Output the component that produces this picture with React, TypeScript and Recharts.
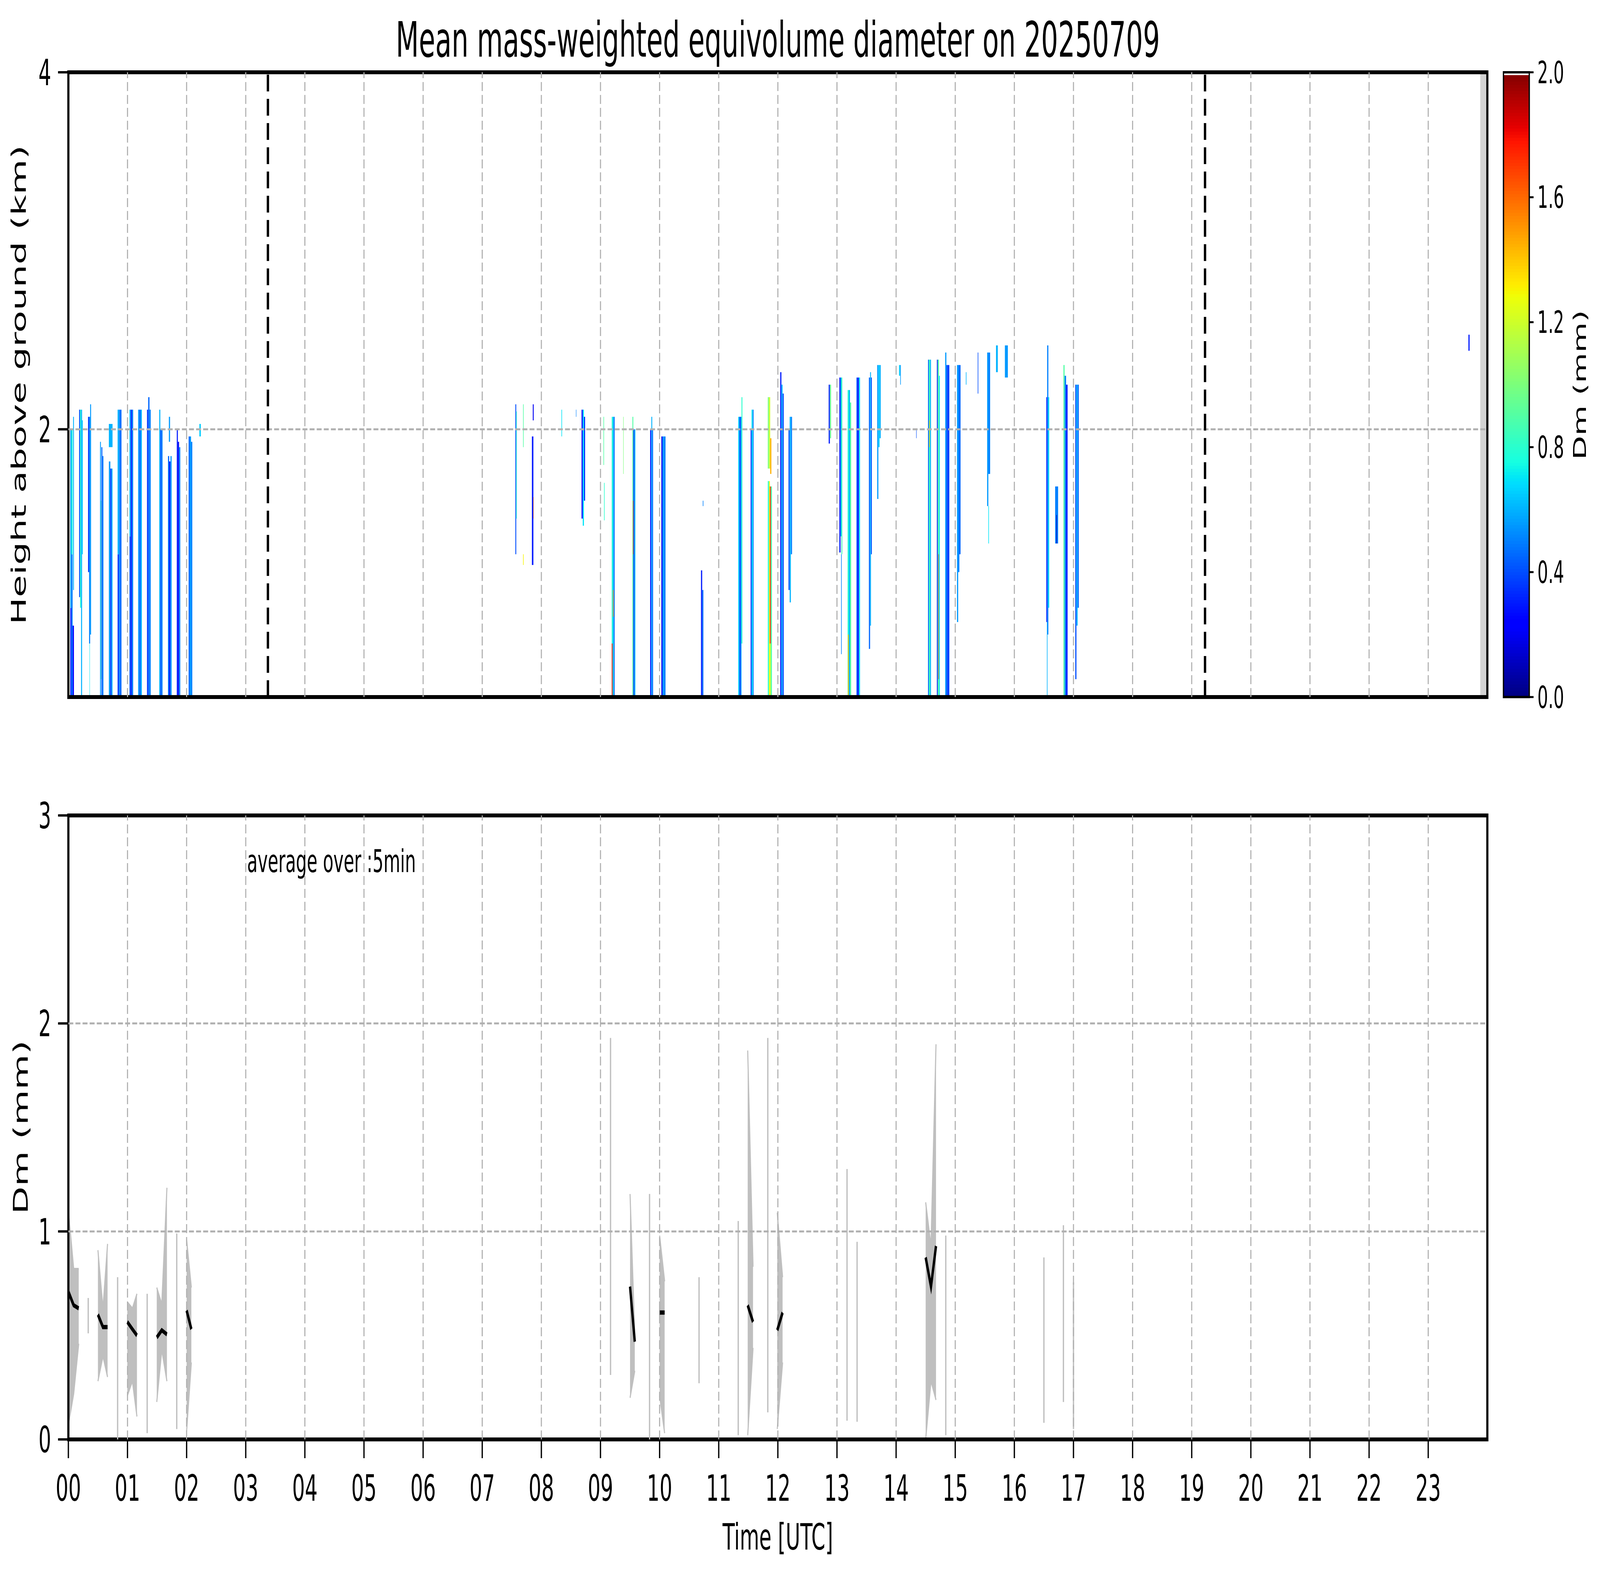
import { ComposedChart, XAxis, YAxis, ReferenceArea, ReferenceLine, Area, Line } from 'recharts'

const FONT = '"DejaVu Sans", sans-serif'
const PAGE_W = 7442
const PAGE_H = 4031

// axis ticks
const hourTicks = [0, 1, 2, 3, 4, 5, 6, 7, 8, 9, 10, 11, 12, 13, 14, 15, 16, 17, 18, 19, 20, 21, 22, 23]
const minorHourTicks = Array.from({ length: 145 }, (_, i) => i / 6)
const heightTicks = [2, 4]
const heightMinorTicks = [1, 3]
const dmTicks = [0, 1, 2, 3]
const dmMinorTicks = [0.2, 0.4, 0.6, 0.8, 1.2, 1.4, 1.6, 1.8, 2.2, 2.4, 2.6, 2.8]
const cbarTicks = [0, 0.4, 0.8, 1.2, 1.6, 2.0]

// sunrise / sunset markers and the no-data strip at the end of the day
const dayMarks = [3.375, 19.225]
const noDataFrom = 23.88

// radar cells: [start h, end h, base km, top km, Dm mm]
type Cell = [number, number, number, number, number]

const nightCells: Cell[] = [
  [0.032, 0.052, 0.5, 1.0, 0.3], [0.032, 0.052, 1.0, 2.0, 0.55],
  [0.052, 0.072, 0.5, 1.3, 0.5], [0.052, 0.072, 1.3, 2.0, 0.75],
  [0.072, 0.094, 0.5, 0.9, 0.25], [0.08, 0.094, 1.1, 2.07, 0.6],
  [0.182, 0.198, 1.06, 2.11, 0.4], [0.198, 0.215, 1.0, 2.11, 0.8], [0.215, 0.232, 0.5, 2.11, 0.6], [0.232, 0.244, 1.3, 2.05, 0.65],
  [0.333, 0.35, 1.2, 2.07, 0.35], [0.35, 0.368, 0.8, 2.07, 0.5], [0.358, 0.364, 0.5, 0.8, 0.7], [0.368, 0.384, 0.85, 2.14, 0.55],
  [0.536, 0.55, 0.5, 1.93, 0.55], [0.55, 0.558, 0.6, 1.6, 0.9], [0.558, 0.575, 0.5, 1.9, 0.45], [0.575, 0.593, 0.5, 1.85, 0.5],
  [0.685, 0.71, 0.5, 1.82, 0.55], [0.71, 0.73, 0.5, 1.78, 0.35], [0.73, 0.747, 0.5, 1.78, 0.6], [0.685, 0.747, 1.9, 2.03, 0.6],
  [0.833, 0.855, 0.5, 1.3, 0.35], [0.833, 0.855, 1.3, 2.11, 0.6], [0.855, 0.877, 0.5, 2.11, 0.5], [0.877, 0.898, 0.5, 2.11, 0.45],
  [1.034, 1.055, 0.5, 1.4, 0.4], [1.034, 1.055, 1.4, 2.11, 0.6], [1.055, 1.075, 0.5, 2.11, 0.3], [1.075, 1.096, 0.5, 2.11, 0.5],
  [1.18, 1.2, 0.5, 2.11, 0.55], [1.2, 1.222, 0.5, 2.11, 0.45], [1.222, 1.243, 0.5, 2.11, 0.6],
  [1.33, 1.35, 0.5, 2.11, 0.35], [1.35, 1.372, 0.5, 2.18, 0.45], [1.372, 1.393, 0.5, 2.11, 0.5],
  [1.537, 1.555, 0.5, 2.11, 0.6], [1.555, 1.575, 0.5, 2.0, 0.4], [1.575, 1.593, 0.5, 2.0, 0.5],
  [1.685, 1.705, 0.5, 1.85, 0.45], [1.705, 1.727, 0.5, 1.82, 0.3], [1.727, 1.747, 0.5, 1.85, 0.55], [1.7, 1.72, 1.93, 2.07, 0.55],
  [1.834, 1.852, 0.5, 2.0, 0.3], [1.852, 1.872, 0.5, 1.93, 0.2], [1.872, 1.893, 0.5, 1.9, 0.5],
  [2.034, 2.054, 0.5, 1.96, 0.45], [2.054, 2.075, 0.5, 1.96, 0.55], [2.075, 2.096, 0.5, 1.93, 0.5],
  [2.216, 2.24, 1.96, 2.03, 0.65],
]

const morningCells: Cell[] = [
  [7.56, 7.575, 1.3, 2.14, 0.4], [7.575, 7.585, 1.5, 2.1, 0.8],
  [7.69, 7.7, 1.9, 2.14, 0.9], [7.69, 7.7, 1.24, 1.3, 1.3],
  [7.84, 7.865, 1.24, 1.96, 0.3], [7.855, 7.87, 2.05, 2.14, 0.2], [7.862, 7.868, 1.5, 1.62, 1.6],
  [8.34, 8.35, 1.96, 2.11, 0.7],
  [8.585, 8.592, 2.07, 2.11, 0.5],
  [8.68, 8.7, 1.5, 2.11, 0.25], [8.7, 8.72, 1.46, 2.11, 0.7], [8.72, 8.74, 1.6, 2.07, 0.35],
  [9.05, 9.06, 1.8, 2.07, 0.9], [9.06, 9.07, 1.49, 1.7, 0.8],
  [9.19, 9.205, 0.8, 2.07, 0.8], [9.19, 9.205, 0.5, 0.8, 1.75], [9.205, 9.225, 0.5, 2.07, 0.65], [9.225, 9.24, 0.5, 2.07, 0.45], [9.21, 9.22, 0.95, 1.1, 1.5],
  [9.385, 9.392, 1.75, 2.07, 1.0],
  [9.54, 9.555, 0.5, 2.07, 0.9], [9.555, 9.575, 0.5, 2.0, 0.4], [9.575, 9.59, 0.5, 2.0, 0.6], [9.548, 9.556, 1.3, 1.6, 1.6],
  [9.84, 9.86, 0.5, 2.0, 0.3], [9.86, 9.875, 0.5, 2.07, 0.6], [9.875, 9.89, 0.5, 2.0, 0.45],
  [10.03, 10.05, 0.5, 1.96, 0.2], [10.05, 10.075, 0.5, 1.96, 0.55], [10.075, 10.1, 0.5, 1.96, 0.5],
  [10.7, 10.72, 0.5, 1.21, 0.3], [10.72, 10.74, 0.5, 1.1, 0.45], [10.73, 10.74, 1.57, 1.6, 0.5],
]

const middayCells: Cell[] = [
  [11.33, 11.35, 0.5, 2.07, 0.65], [11.35, 11.37, 0.5, 2.07, 0.4], [11.37, 11.385, 0.5, 2.07, 0.55], [11.385, 11.4, 0.8, 2.18, 0.8],
  [11.54, 11.555, 0.5, 2.0, 0.3], [11.555, 11.575, 0.5, 2.11, 0.7], [11.575, 11.59, 0.5, 2.11, 0.5],
  [11.83, 11.85, 1.78, 2.18, 1.0], [11.85, 11.87, 1.78, 2.18, 1.2], [11.87, 11.89, 1.75, 1.95, 1.45],
  [11.83, 11.85, 0.5, 1.71, 0.8], [11.85, 11.865, 0.5, 1.71, 1.3], [11.865, 11.88, 0.8, 1.68, 1.75], [11.865, 11.88, 0.5, 0.8, 1.2], [11.88, 11.9, 0.5, 1.68, 0.9],
  [12.04, 12.06, 0.5, 2.32, 0.3], [12.06, 12.08, 0.5, 2.25, 0.6], [12.08, 12.1, 0.5, 2.2, 0.4],
  [12.18, 12.2, 1.1, 2.0, 0.4], [12.2, 12.22, 1.03, 2.07, 0.6], [12.22, 12.24, 1.3, 2.07, 0.5],
  [12.86, 12.88, 1.92, 2.25, 0.3], [12.88, 12.9, 1.95, 2.25, 0.95],
  [13.04, 13.06, 1.31, 2.29, 0.3], [13.06, 13.075, 1.4, 2.29, 0.6], [13.075, 13.09, 1.3, 2.29, 0.85], [13.07, 13.08, 0.74, 1.3, 0.5],
  [13.18, 13.2, 0.5, 2.22, 0.8], [13.2, 13.22, 0.5, 2.22, 0.6], [13.22, 13.24, 0.5, 2.15, 0.9], [13.185, 13.2, 0.5, 0.85, 1.4],
  [13.33, 13.35, 0.5, 2.29, 0.4], [13.35, 13.37, 0.5, 2.29, 0.25], [13.37, 13.39, 0.5, 2.29, 0.7],
  [13.54, 13.56, 0.77, 2.29, 0.45], [13.56, 13.575, 0.9, 2.32, 0.6], [13.575, 13.59, 1.3, 2.29, 0.4],
  [13.68, 13.7, 1.61, 2.36, 0.55], [13.7, 13.72, 1.9, 2.36, 0.65], [13.72, 13.74, 1.95, 2.36, 0.6],
  [14.05, 14.07, 2.3, 2.36, 0.65], [14.07, 14.08, 2.25, 2.36, 0.55],
  [14.34, 14.347, 1.95, 2.0, 0.4],
]

const afternoonCells: Cell[] = [
  [14.54, 14.555, 0.5, 2.39, 0.45], [14.555, 14.575, 0.5, 2.39, 0.85], [14.575, 14.59, 0.5, 2.39, 0.6], [14.56, 14.57, 1.9, 2.05, 1.4],
  [14.69, 14.705, 0.5, 2.39, 0.3], [14.705, 14.725, 0.5, 2.39, 0.9], [14.715, 14.722, 0.6, 1.3, 1.8], [14.725, 14.74, 0.5, 2.3, 0.7],
  [14.83, 14.85, 0.5, 2.43, 0.55], [14.85, 14.875, 0.5, 2.36, 0.4], [14.875, 14.9, 0.5, 2.36, 0.35],
  [15.03, 15.05, 0.92, 2.36, 0.55], [15.05, 15.07, 1.2, 2.36, 0.5], [15.07, 15.09, 1.3, 2.36, 0.45],
  [15.18, 15.19, 2.25, 2.32, 0.6],
  [15.38, 15.39, 2.2, 2.43, 0.4],
  [15.54, 15.56, 1.57, 2.43, 0.55], [15.56, 15.59, 1.75, 2.43, 0.5], [15.56, 15.57, 1.36, 1.57, 0.7],
  [15.69, 15.72, 2.32, 2.47, 0.6],
  [15.84, 15.89, 2.29, 2.47, 0.55],
  [16.54, 16.555, 0.92, 2.18, 0.3], [16.555, 16.575, 0.85, 2.47, 0.5], [16.575, 16.59, 1.0, 2.18, 0.7], [16.55, 16.56, 0.5, 0.92, 0.6],
  [16.69, 16.74, 1.36, 1.68, 0.5], [16.71, 16.72, 1.36, 1.52, 0.1],
  [16.83, 16.85, 0.5, 2.36, 0.9], [16.85, 16.875, 0.5, 2.3, 0.5], [16.875, 16.9, 0.5, 2.25, 0.3],
  [17.03, 17.05, 0.6, 2.25, 0.4], [17.05, 17.07, 0.9, 2.25, 0.6], [17.07, 17.09, 1.0, 2.25, 0.45],
  [23.68, 23.7, 2.44, 2.53, 0.3],
]

const radarCells = [...nightCells, ...morningCells, ...middayCells, ...afternoonCells]

// 5 min averages of Dm: one list per rain episode
const avgTime = [
  [0, 0.09, 0.175],
  [0.5, 0.585, 0.663],
  [0.997, 1.083, 1.16],
  [1.495, 1.58, 1.667],
  [2.0, 2.08],
  [9.5, 9.58],
  [10.0, 10.085],
  [11.49, 11.58],
  [11.99, 12.08],
  [14.5, 14.59, 14.675],
]
const avgLow = [
  [0.07, 0.22, 0.46],
  [0.28, 0.4, 0.3],
  [0.21, 0.28, 0.11],
  [0.18, 0.43, 0.28],
  [0.04, 0.37],
  [0.2, 0.33],
  [0.21, 0.03],
  [0.02, 0.44],
  [0.05, 0.37],
  [0.0, 0.28, 0.19],
]
const avgHigh = [
  [1.1, 0.82, 0.82],
  [0.91, 0.63, 0.94],
  [0.66, 0.63, 0.7],
  [0.73, 0.65, 1.21],
  [0.96, 0.73],
  [1.18, 0.5],
  [0.98, 0.76],
  [1.87, 0.83],
  [1.09, 0.78],
  [1.14, 0.93, 1.9],
]
const avgMean = [
  [0.71, 0.645, 0.63],
  [0.6, 0.54, 0.54],
  [0.565, 0.53, 0.5],
  [0.49, 0.525, 0.505],
  [0.62, 0.53],
  [0.735, 0.47],
  [0.61, 0.61],
  [0.645, 0.565],
  [0.525, 0.61],
  [0.875, 0.735, 0.93],
]

// single-sample spreads (drawn as thin vertical bars)
const spikeTime = [0.336, 0.833, 1.333, 1.833, 9.17, 9.83, 10.667, 11.33, 11.83, 13.17, 13.34, 14.84, 16.5, 16.83, 17.0]
const spikeLow = [0.51, 0.0, 0.03, 0.05, 0.31, 0.0, 0.27, 0.02, 0.13, 0.09, 0.085, 0.02, 0.08, 0.18, 0.05]
const spikeHigh = [0.68, 0.78, 0.7, 0.99, 1.93, 1.18, 0.78, 1.05, 1.93, 1.3, 0.95, 0.98, 0.875, 1.03, 0.755]

const avgRows = avgTime.flatMap((ts, g) => {
  const rows: { t: number; band: number[] | null; mean: number | null }[] = ts.map((t, i) => ({
    t,
    band: [avgLow[g][i], avgHigh[g][i]],
    mean: avgMean[g][i],
  }))
  if (g < avgTime.length - 1) rows.push({ t: ts[ts.length - 1] + 0.04, band: null, mean: null })
  return rows
})

// matplotlib jet
const JET_R = [[0, 0], [0.35, 0], [0.66, 1], [0.89, 1], [1, 0.5]]
const JET_G = [[0, 0], [0.125, 0], [0.375, 1], [0.64, 1], [0.91, 0], [1, 0]]
const JET_B = [[0, 0.5], [0.11, 1], [0.34, 1], [0.65, 0], [1, 0]]

function seg(points: number[][], x: number) {
  for (let i = 1; i < points.length; i++) {
    const [x0, y0] = points[i - 1]
    const [x1, y1] = points[i]
    if (x <= x1) return y0 + ((y1 - y0) * (x - x0)) / (x1 - x0)
  }
  return points[points.length - 1][1]
}

function jet(dm: number) {
  const x = Math.min(1, Math.max(0, dm / 2))
  const c = (p: number[][]) => Math.round(255 * seg(p, x))
  return `rgb(${c(JET_R)},${c(JET_G)},${c(JET_B)})`
}

// colour bar steps (0 .. 2 mm)
const cbarSteps = Array.from({ length: 200 }, (_, i) => i * 0.01)

const GRID = '#b0b0b0'
const tickFont = { fontSize: 93, fill: '#000', fontFamily: FONT }
const tickLineStyle = { stroke: '#000', strokeWidth: 6 }
const pad2 = (v: number) => String(v).padStart(2, '0')

function TopPanel() {
  return (
    <ComposedChart width={PAGE_W} height={1900} data={[]} margin={{ top: 185, right: 524, bottom: 114, left: 316 }}>
      <XAxis xAxisId={0} type="number" dataKey="t" domain={[0, 24]} allowDataOverflow ticks={hourTicks} interval={0}
        tick={false} tickSize={48} tickLine={tickLineStyle} axisLine={false} height={1} />
      <XAxis xAxisId="minor" type="number" domain={[0, 24]} allowDataOverflow ticks={minorHourTicks} interval={0}
        tick={false} tickSize={26} tickLine={tickLineStyle} axisLine={false} height={1} />
      <YAxis yAxisId={0} type="number" domain={[0.5, 4]} allowDataOverflow ticks={heightTicks} interval={0}
        tick={tickFont} tickSize={48} tickMargin={32} tickLine={tickLineStyle} axisLine={false} width={1} />
      <YAxis yAxisId="minor" type="number" domain={[0.5, 4]} allowDataOverflow ticks={heightMinorTicks} interval={0}
        tick={false} tickSize={28} tickLine={tickLineStyle} axisLine={false} width={1} />

      {radarCells.map(([t0, t1, z0, z1, dm], i) => (
        <ReferenceArea key={'c' + i} x1={t0} x2={t1} y1={z0} y2={z1} fill={jet(dm)} fillOpacity={1} stroke="none" />
      ))}

      <ReferenceArea x1={noDataFrom} x2={24} y1={0.5} y2={4} fill="#d3d3d3" fillOpacity={1} stroke="none" />

      {hourTicks.slice(1).map((h) => (
        <ReferenceLine key={'gx' + h} x={h} stroke={GRID} strokeWidth={5} strokeDasharray="23 10" />
      ))}
      <ReferenceLine y={2} stroke={GRID} strokeWidth={5} strokeDasharray="23 10" />

      {dayMarks.map((h) => (
        <ReferenceLine key={'d' + h} x={h} stroke="#000" strokeWidth={11} strokeDasharray="43 19" />
      ))}

      <ReferenceArea x1={0} x2={24} y1={0.5} y2={4} fill="none" stroke="#000" strokeWidth={10} ifOverflow="visible" />
    </ComposedChart>
  )
}

function BottomPanel() {
  return (
    <ComposedChart width={PAGE_W} height={2081} data={avgRows} margin={{ top: 137, right: 524, bottom: 345, left: 316 }}>
      <XAxis xAxisId={0} type="number" dataKey="t" domain={[0, 24]} allowDataOverflow ticks={hourTicks} interval={0}
        tickFormatter={pad2} tick={tickFont} tickSize={48} tickMargin={43} tickLine={tickLineStyle} axisLine={false} height={1} />
      <XAxis xAxisId="minor" type="number" dataKey="t" domain={[0, 24]} allowDataOverflow ticks={minorHourTicks} interval={0}
        tick={false} tickSize={26} tickLine={tickLineStyle} axisLine={false} height={1} />
      <YAxis yAxisId={0} type="number" domain={[0, 3]} allowDataOverflow ticks={dmTicks} interval={0}
        tick={tickFont} tickSize={48} tickMargin={32} tickLine={tickLineStyle} axisLine={false} width={1} />
      <YAxis yAxisId="minor" type="number" domain={[0, 3]} allowDataOverflow ticks={dmMinorTicks} interval={0}
        tick={false} tickSize={28} tickLine={tickLineStyle} axisLine={false} width={1} />

      <Area type="linear" dataKey="band" stroke="#bfbfbf" strokeWidth={5} fill="#bfbfbf" fillOpacity={1}
        dot={false} activeDot={false} isAnimationActive={false} />

      {spikeTime.map((t, i) => (
        <ReferenceLine key={'s' + i} segment={[{ x: t, y: spikeLow[i] }, { x: t, y: spikeHigh[i] }]}
          stroke="#bfbfbf" strokeWidth={6} />
      ))}

      {hourTicks.slice(1).map((h) => (
        <ReferenceLine key={'gx' + h} x={h} stroke={GRID} strokeWidth={5} strokeDasharray="23 10" />
      ))}
      {[1, 2].map((v) => (
        <ReferenceLine key={'gy' + v} y={v} stroke={GRID} strokeWidth={5} strokeDasharray="23 10" />
      ))}

      <Line type="linear" dataKey="mean" stroke="#000" strokeWidth={11} dot={false} activeDot={false}
        isAnimationActive={false} />

      <ReferenceArea x1={0} x2={24} y1={0} y2={3} fill="none" stroke="#000" strokeWidth={10} ifOverflow="visible" />
    </ComposedChart>
  )
}

function ColorBar() {
  return (
    <ComposedChart width={542} height={1900} data={[]} margin={{ top: 185, right: 328, bottom: 115, left: 93 }}>
      <XAxis xAxisId={0} type="number" dataKey="x" domain={[0, 1]} allowDataOverflow ticks={[0]} tick={false}
        tickLine={false} axisLine={false} height={1} />
      <YAxis yAxisId={0} orientation="right" type="number" domain={[0, 2]} allowDataOverflow ticks={cbarTicks} interval={0}
        tickFormatter={(v: number) => v.toFixed(1)} tick={{ fontSize: 78, fill: '#000', fontFamily: FONT }}
        tickSize={20} tickMargin={18} tickLine={{ stroke: '#000', strokeWidth: 5 }} axisLine={false} width={1} />
      {cbarSteps.map((v) => (
        <ReferenceArea key={'cb' + v} x1={0} x2={1} y1={v} y2={v + 0.011} fill={jet(v + 0.005)} fillOpacity={1}
          stroke="none" />
      ))}
      <ReferenceArea x1={0} x2={1} y1={0} y2={2} fill="none" stroke="#000" strokeWidth={6} ifOverflow="visible" />
    </ComposedChart>
  )
}

const textBase: React.CSSProperties = {
  position: 'absolute',
  fontFamily: FONT,
  color: '#000',
  whiteSpace: 'nowrap',
  lineHeight: 1,
}

export default function App() {
  // the browser viewport can be narrower than the figure: squeeze horizontally so the whole figure shows
  const sx = typeof window !== 'undefined' ? Math.min(1, window.innerWidth / PAGE_W) : 1
  return (
    <div style={{ position: 'absolute', left: 0, top: 0, width: PAGE_W * sx, height: PAGE_H, overflow: 'hidden', background: '#fff' }}>
      <div style={{ position: 'absolute', left: 0, top: 0, width: PAGE_W, height: PAGE_H, background: '#fff',
        transform: `scaleX(${sx})`, transformOrigin: '0 0' }}>
        <div style={{ position: 'absolute', left: 0, top: 0 }}>
          <TopPanel />
        </div>
        <div style={{ position: 'absolute', left: 6900, top: 0 }}>
          <ColorBar />
        </div>
        <div style={{ position: 'absolute', left: 0, top: 1950 }}>
          <BottomPanel />
        </div>

        <div style={{ ...textBase, left: 3618, top: 102, fontSize: 124, transform: 'translate(-50%, -50%)' }}>
          Mean mass-weighted equivolume diameter on 20250709
        </div>
        <div style={{ ...textBase, left: 88, top: 985, fontSize: 93, transform: 'translate(-50%, -50%) rotate(-90deg)' }}>
          Height above ground (km)
        </div>
        <div style={{ ...textBase, left: 97, top: 2885, fontSize: 93, transform: 'translate(-50%, -50%) rotate(-90deg)' }}>
          Dm (mm)
        </div>
        <div style={{ ...textBase, left: 7350, top: 985, fontSize: 80, transform: 'translate(-50%, -50%) rotate(-90deg)' }}>
          Dm (mm)
        </div>
        <div style={{ ...textBase, left: 3618, top: 3934, fontSize: 93, transform: 'translate(-50%, -50%)' }}>
          Time [UTC]
        </div>
        <div style={{ ...textBase, left: 1149, top: 2205, fontSize: 80, transform: 'translateY(-50%)' }}>
          average over :5min
        </div>
      </div>
    </div>
  )
}
